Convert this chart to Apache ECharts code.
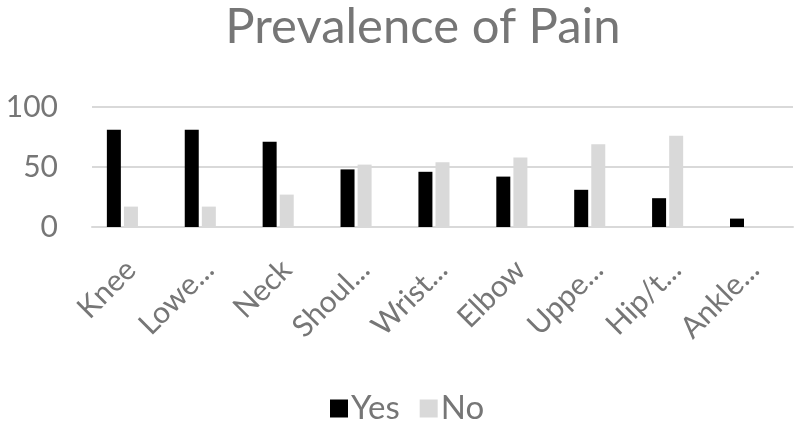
<!DOCTYPE html>
<html>
<head>
<meta charset="utf-8">
<script src="https://cdn.jsdelivr.net/npm/echarts@6/dist/echarts.min.js"></script>
<style>
  html, body { margin: 0; padding: 0; background: #fff; }
  #chart { width: 797px; height: 422px; }
</style>
</head>
<body>
<div id="chart"></div>
<script>
// 数据
var categories = ['Knee', 'Lowe...', 'Neck', 'Shoul...', 'Wrist...', 'Elbow', 'Uppe...', 'Hip/t...', 'Ankle...']
var yesValues = [81, 81, 71, 48, 46, 42, 31, 24, 7]
var noValues = [17, 17, 27, 52, 54, 58, 69, 76, 0]
// the source sheet has an empty third series, which shifts the pair left
var blankValues = [null, null, null, null, null, null, null, null, null]
var yTicks = [0, 50, 100]

var textColor = '#767676'
var font = 'Lato'

var myChart = echarts.init(document.getElementById('chart'))

var option = {
  animation: false,
  title: {
    text: 'Prevalence of Pain',
    left: 418,
    top: -2,
    textAlign: 'center',
    textStyle: { color: textColor, fontFamily: font, fontSize: 49, fontWeight: 'normal' }
  },
  legend: {
    data: ['Yes', 'No'],
    left: 325,
    top: 387,
    itemWidth: 18,
    itemHeight: 18,
    itemGap: 20,
    icon: 'rect',
    textStyle: { color: textColor, fontFamily: font, fontSize: 33, padding: [0, 0, 0, -2] }
  },
  grid: { left: 92, right: 4, top: 107, bottom: 195 },
  xAxis: {
    type: 'category',
    data: categories,
    axisLine: { show: true, lineStyle: { color: '#d9d9d9', width: 2 } },
    axisTick: { show: false },
    axisLabel: {
      rotate: 45,
      margin: 38,
      interval: 0,
      color: textColor,
      fontFamily: font,
      fontSize: 30
    }
  },
  yAxis: {
    type: 'value',
    min: yTicks[0],
    max: yTicks[yTicks.length - 1],
    interval: 50,
    axisLine: { show: false },
    axisTick: { show: false },
    splitLine: { lineStyle: { color: '#d9d9d9', width: 2 } },
    axisLabel: { color: textColor, fontFamily: font, fontSize: 30, margin: 34 }
  },
  series: [
    { name: 'Yes', type: 'bar', data: yesValues, barWidth: 14, barGap: '22%', itemStyle: { color: '#000000' } },
    { name: 'No', type: 'bar', data: noValues, barWidth: 14, barGap: '22%', itemStyle: { color: '#d9d9d9' } },
    { name: 'blank', type: 'bar', data: blankValues, barWidth: 14, barGap: '22%', itemStyle: { color: '#a5a5a5' } }
  ]
}

myChart.setOption(option)
</script>
</body>
</html>
